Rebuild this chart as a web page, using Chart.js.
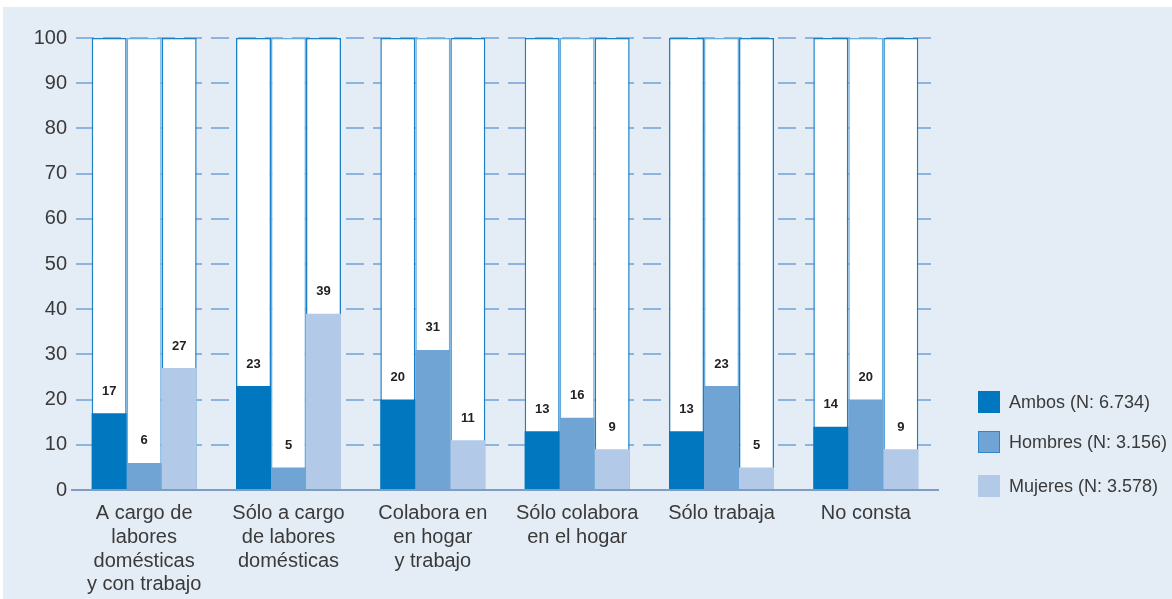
<!DOCTYPE html>
<html>
<head>
<meta charset="utf-8">
<script src="https://cdn.jsdelivr.net/npm/chart.js@4.4.1/dist/chart.umd.min.js"></script>
<style>
  html, body { margin: 0; padding: 0; background: #ffffff; }
  #wrap { position: relative; width: 1172px; height: 599px; overflow: hidden; }
  #bg { position: absolute; left: 3px; top: 7px; right: 0; bottom: 0; background: #e4ecf5; }
  #c { position: absolute; left: 0; top: 0; }
  #legend { position: absolute; left: 978px; top: 391px; font-family: "Liberation Sans", Arial, sans-serif; font-size: 18px; color: #3a3a3a; }
  .li { position: absolute; left: 0; height: 22px; white-space: nowrap; }
  .sw { position: absolute; left: 0; top: 0; width: 22px; height: 22px; box-sizing: border-box; }
  .lt { position: absolute; left: 31px; top: 0; line-height: 22px; }
</style>
</head>
<body>
<div id="wrap">
  <div id="bg"></div>
  <canvas id="c" width="1172" height="599"></canvas>
  <div id="legend"></div>
</div>
<script>
const categories = [
  ["A cargo de", "labores", "domésticas", "y con trabajo"],
  ["Sólo a cargo", "de labores", "domésticas"],
  ["Colabora en", "en hogar", "y trabajo"],
  ["Sólo colabora", "en el hogar"],
  ["Sólo trabaja"],
  ["No consta"]
];
const seriesNames = ["Ambos (N: 6.734)", "Hombres (N: 3.156)", "Mujeres (N: 3.578)"];
const ambos   = [17, 23, 20, 13, 13, 14];
const hombres = [6, 5, 31, 16, 23, 20];
const mujeres = [27, 39, 11, 9, 5, 9];
const fullScale = [100, 100, 100, 100, 100, 100];
const yTicks = [0, 10, 20, 30, 40, 50, 60, 70, 80, 90, 100];

const colors = ["#0077bf", "#6fa4d5", "#b3c9e8"];
const boxBorders = ["#1a80c8", "#6aaee0", "#1a80c8"];
const legendBorders = ["#0077bf", "#2f86c8", "#b3c9e8"];
const seriesValues = [ambos, hombres, mujeres];
const stacks = ["s0", "s1", "s2"];

const datasets = [];
seriesValues.forEach((vals, i) => {
  datasets.push({
    label: seriesNames[i],
    data: vals,
    backgroundColor: colors[i],
    borderWidth: 0,
    stack: stacks[i],
    order: 1,
    barPercentage: 1,
    categoryPercentage: 0.7275
  });
});
seriesValues.forEach((vals, i) => {
  datasets.push({
    label: "box" + i,
    data: fullScale,
    backgroundColor: "#ffffff",
    borderColor: boxBorders[i],
    borderWidth: 1.5,
    stack: stacks[i],
    order: 2,
    barPercentage: 1,
    categoryPercentage: 0.7275
  });
});

const valueLabels = {
  id: "valueLabels",
  afterDatasetsDraw(chart) {
    const ctx = chart.ctx;
    ctx.save();
    ctx.font = "bold 13px 'Liberation Sans', Arial, sans-serif";
    ctx.fillStyle = "#222222";
    ctx.textAlign = "center";
    ctx.textBaseline = "middle";
    for (let d = 0; d < 3; d++) {
      const meta = chart.getDatasetMeta(d);
      meta.data.forEach((bar, i) => {
        ctx.fillText(String(seriesValues[d][i]), bar.x, bar.y - 22);
      });
    }
    ctx.restore();
  }
};

new Chart(document.getElementById("c"), {
  type: "bar",
  data: { labels: categories, datasets: datasets },
  options: {
    responsive: false,
    animation: false,
    devicePixelRatio: 1,
    layout: { padding: { left: 0, right: 234, top: 38, bottom: 0 } },
    plugins: { legend: { display: false }, tooltip: { enabled: false } },
    scales: {
      x: {
        stacked: true,
        grid: { display: false, drawTicks: false },
        border: { display: true, color: "#7f9dc2", width: 2 },
        ticks: {
          color: "#3a3a3a",
          padding: 12,
          maxRotation: 0,
          autoSkip: false,
          font: { family: "'Liberation Sans', Arial, sans-serif", size: 20, lineHeight: 1.18 }
        },
        afterFit(scale) { scale.height = 109; }
      },
      y: {
        stacked: false,
        min: 0,
        max: 100,
        afterBuildTicks(scale) { scale.ticks = yTicks.map(v => ({ value: v })); },
        grid: {
          drawTicks: false,
          lineWidth: 2,
          color: (ctx) => (ctx.tick && ctx.tick.value === 0) ? "rgba(0,0,0,0)" : "#8db3de"
        },
        border: { display: false, dash: [18, 9], dashOffset: 23 },
        ticks: {
          color: "#3a3a3a",
          padding: 5,
          font: { family: "'Liberation Sans', Arial, sans-serif", size: 20 }
        },
        afterFit(scale) { scale.width = 72; }
      }
    }
  },
  plugins: [valueLabels]
});

const legendEl = document.getElementById("legend");
const legendTops = [0, 40, 84];
seriesNames.forEach((name, i) => {
  const item = document.createElement("div");
  item.className = "li";
  item.style.top = legendTops[i] + "px";
  const sw = document.createElement("div");
  sw.className = "sw";
  sw.style.background = colors[i];
  sw.style.border = "1px solid " + legendBorders[i];
  const t = document.createElement("div");
  t.className = "lt";
  t.textContent = name;
  item.appendChild(sw);
  item.appendChild(t);
  legendEl.appendChild(item);
});
</script>
</body>
</html>
